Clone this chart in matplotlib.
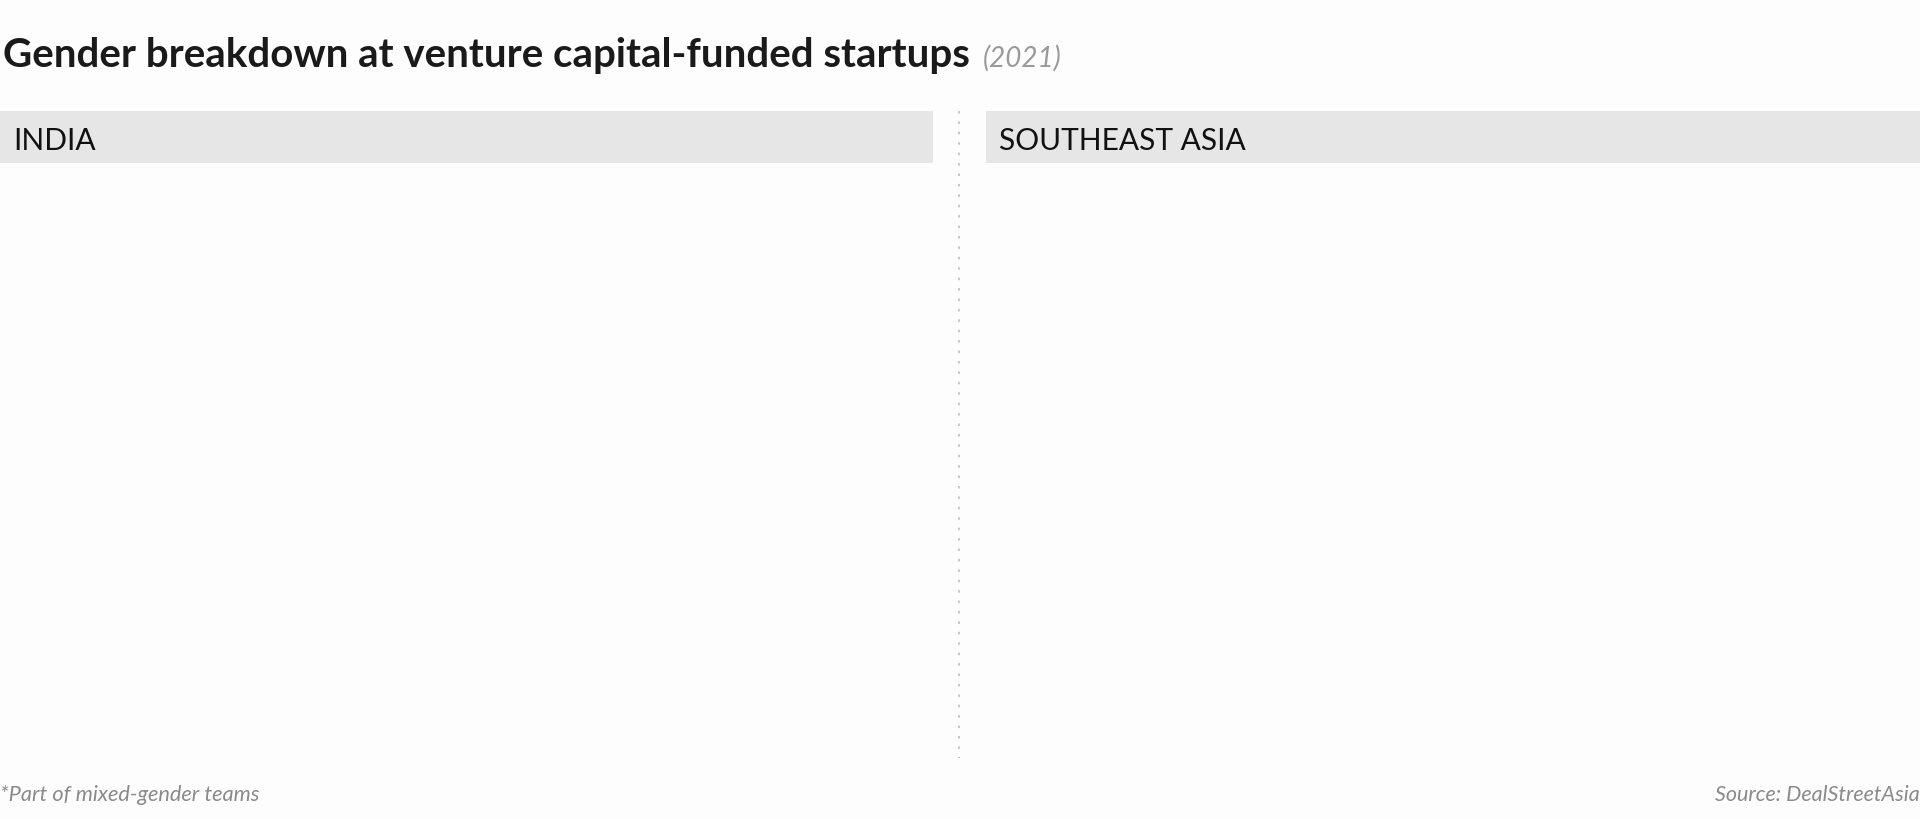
import matplotlib
matplotlib.use('Agg')
import matplotlib.pyplot as plt
from matplotlib.patches import Rectangle
from matplotlib.lines import Line2D

# chart texts / panels
title = 'Gender breakdown at venture capital-funded startups'
year = '(2021)'
regions = ['INDIA', 'SOUTHEAST ASIA']
footnote = '*Part of mixed-gender teams'
source = 'Source: DealStreetAsia'

bg = '#fdfdfd'
fig = plt.figure(figsize=(19.2, 8.19), dpi=100, facecolor=bg)

# title + year in lighter italic right after it
t = fig.text(0.0015, 1 - 67 / 819, title, fontsize=29, fontweight='bold',
             family='Lato', color='#1a1a1a', ha='left', va='baseline')
renderer = fig.canvas.get_renderer()
bb = t.get_window_extent(renderer=renderer)
fig.text((bb.x1 + 13) / 1920, 1 - 67 / 819, year, fontsize=20, style='italic',
         family='Lato', color='#9a9a9a', ha='left', va='baseline')

# two panels, each with a grey header strip
panel_x = [(0, 933), (986, 1920)]
top, bottom = 111, 755
for name, (x0, x1) in zip(regions, panel_x):
    ax = fig.add_axes([x0 / 1920, 1 - bottom / 819, (x1 - x0) / 1920, (bottom - top) / 819])
    ax.set_xlim(0, 1)
    ax.set_ylim(0, 1)
    ax.axis('off')
    hh = 52 / (bottom - top)
    ax.add_patch(Rectangle((0, 1 - hh), 1, hh, facecolor='#e6e6e6', edgecolor='none'))
    ax.text(13 / (x1 - x0), 1 - hh / 2 - 4 / (bottom - top), name, fontsize=21.5,
            family='Lato', color='#111111', ha='left', va='center')

# dotted divider
fig.add_artist(Line2D([959 / 1920, 959 / 1920], [1 - 111 / 819, 1 - 758 / 819],
                      transform=fig.transFigure, color='#c8c8c8', lw=1.5,
                      linestyle=(0, (1.2, 3.8))))

fig.text(0.0, 1 - 801 / 819, footnote, fontsize=15.7, style='italic', family='Lato',
         color='#8a8a8a', ha='left', va='baseline')
fig.text(1.0, 1 - 801 / 819, source, fontsize=15.5, style='italic', family='Lato',
         color='#8a8a8a', ha='right', va='baseline')

fig.savefig('out.png', dpi=100, facecolor=bg)
